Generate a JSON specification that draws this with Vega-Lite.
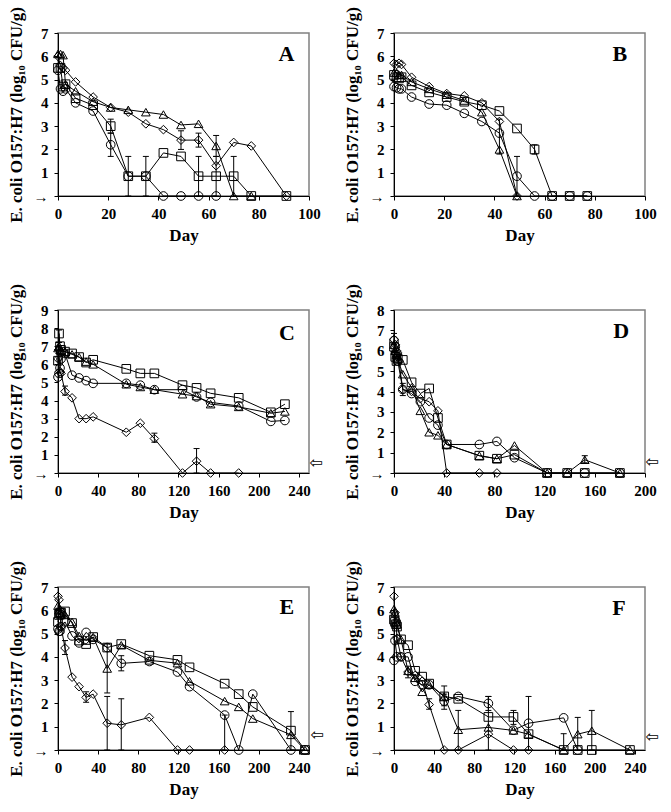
{
"$schema": "https://vega.github.io/schema/vega-lite/v6.json",
"background": "white",
"padding": {"left": 6, "top": 5, "right": 5, "bottom": 5},
"bounds": "flush",
"columns": 2,
"spacing": {"row": 114, "column": 85},
"datasets": {"m": [
{"p":"A","s":"c","d":0,"v":5.4},{"p":"A","s":"c","d":1,"v":4.6},{"p":"A","s":"c","d":2,"v":4.5},{"p":"A","s":"c","d":3,"v":4.6},{"p":"A","s":"c","d":7,"v":4.0},{"p":"A","s":"c","d":14,"v":3.65},{"p":"A","s":"c","d":21,"v":2.2,"lo":1.7,"hi":2.7},{"p":"A","s":"c","d":28,"v":0.85},{"p":"A","s":"c","d":35,"v":0.85},{"p":"A","s":"c","d":42,"v":0},{"p":"A","s":"c","d":49,"v":0},{"p":"A","s":"c","d":56,"v":0},{"p":"A","s":"c","d":63,"v":0},
{"p":"A","s":"s","d":0,"v":5.5},{"p":"A","s":"s","d":1,"v":5.5},{"p":"A","s":"s","d":2,"v":4.7},{"p":"A","s":"s","d":3,"v":4.8},{"p":"A","s":"s","d":7,"v":4.2},{"p":"A","s":"s","d":14,"v":3.9},{"p":"A","s":"s","d":21,"v":3.0,"lo":2.7,"hi":3.3},{"p":"A","s":"s","d":28,"v":0.85,"lo":0,"hi":1.7},{"p":"A","s":"s","d":35,"v":0.85,"lo":0,"hi":1.7},{"p":"A","s":"s","d":42,"v":1.85},{"p":"A","s":"s","d":49,"v":1.7},{"p":"A","s":"s","d":56,"v":0.85,"lo":0,"hi":1.7},{"p":"A","s":"s","d":63,"v":0.85,"lo":0,"hi":1.7},{"p":"A","s":"s","d":70,"v":0.85,"lo":0,"hi":1.7},{"p":"A","s":"s","d":77,"v":0},{"p":"A","s":"s","d":91,"v":0},
{"p":"A","s":"t","d":0,"v":6.1},{"p":"A","s":"t","d":1,"v":6.1},{"p":"A","s":"t","d":2,"v":6.05},{"p":"A","s":"t","d":3,"v":4.8},{"p":"A","s":"t","d":7,"v":4.5},{"p":"A","s":"t","d":14,"v":4.05},{"p":"A","s":"t","d":21,"v":3.8},{"p":"A","s":"t","d":28,"v":3.7},{"p":"A","s":"t","d":35,"v":3.6},{"p":"A","s":"t","d":42,"v":3.5},{"p":"A","s":"t","d":49,"v":3.05},{"p":"A","s":"t","d":56,"v":3.1},{"p":"A","s":"t","d":63,"v":2.15,"lo":1.7,"hi":2.6},{"p":"A","s":"t","d":70,"v":0},{"p":"A","s":"t","d":77,"v":0},
{"p":"A","s":"d","d":0,"v":6.0},{"p":"A","s":"d","d":1,"v":5.6},{"p":"A","s":"d","d":2,"v":5.5},{"p":"A","s":"d","d":3,"v":5.4},{"p":"A","s":"d","d":7,"v":4.9},{"p":"A","s":"d","d":14,"v":4.25},{"p":"A","s":"d","d":21,"v":3.8},{"p":"A","s":"d","d":28,"v":3.6},{"p":"A","s":"d","d":35,"v":3.1},{"p":"A","s":"d","d":42,"v":2.85},{"p":"A","s":"d","d":49,"v":2.4,"lo":2.0,"hi":2.8},{"p":"A","s":"d","d":56,"v":2.4,"lo":2.1,"hi":2.7},{"p":"A","s":"d","d":63,"v":1.3},{"p":"A","s":"d","d":70,"v":2.3},{"p":"A","s":"d","d":77,"v":2.15},{"p":"A","s":"d","d":91,"v":0},

{"p":"B","s":"c","d":0,"v":4.7},{"p":"B","s":"c","d":1,"v":4.65},{"p":"B","s":"c","d":2,"v":4.6},{"p":"B","s":"c","d":3,"v":4.6},{"p":"B","s":"c","d":7,"v":4.25},{"p":"B","s":"c","d":14,"v":3.95},{"p":"B","s":"c","d":21,"v":3.9},{"p":"B","s":"c","d":28,"v":3.55},{"p":"B","s":"c","d":35,"v":3.2},{"p":"B","s":"c","d":42,"v":2.7},{"p":"B","s":"c","d":49,"v":0.85,"lo":0,"hi":1.7},{"p":"B","s":"c","d":56,"v":0},{"p":"B","s":"c","d":63,"v":0},{"p":"B","s":"c","d":70,"v":0},{"p":"B","s":"c","d":77,"v":0},
{"p":"B","s":"s","d":0,"v":5.2},{"p":"B","s":"s","d":1,"v":5.1},{"p":"B","s":"s","d":2,"v":5.05},{"p":"B","s":"s","d":3,"v":5.1},{"p":"B","s":"s","d":7,"v":4.75},{"p":"B","s":"s","d":14,"v":4.45},{"p":"B","s":"s","d":21,"v":4.25},{"p":"B","s":"s","d":28,"v":4.05},{"p":"B","s":"s","d":35,"v":3.9},{"p":"B","s":"s","d":42,"v":3.65},{"p":"B","s":"s","d":49,"v":2.9},{"p":"B","s":"s","d":56,"v":2.0,"lo":1.8,"hi":2.2},{"p":"B","s":"s","d":63,"v":0},{"p":"B","s":"s","d":70,"v":0},{"p":"B","s":"s","d":77,"v":0},
{"p":"B","s":"t","d":0,"v":5.3},{"p":"B","s":"t","d":1,"v":5.3},{"p":"B","s":"t","d":2,"v":5.2},{"p":"B","s":"t","d":3,"v":5.2},{"p":"B","s":"t","d":7,"v":4.9},{"p":"B","s":"t","d":14,"v":4.6},{"p":"B","s":"t","d":21,"v":4.35},{"p":"B","s":"t","d":28,"v":4.1},{"p":"B","s":"t","d":35,"v":3.6},{"p":"B","s":"t","d":42,"v":2.0,"lo":1.8,"hi":3.3},{"p":"B","s":"t","d":49,"v":0},
{"p":"B","s":"d","d":0,"v":5.7},{"p":"B","s":"d","d":1,"v":5.65},{"p":"B","s":"d","d":2,"v":5.7},{"p":"B","s":"d","d":3,"v":5.65},{"p":"B","s":"d","d":7,"v":5.1},{"p":"B","s":"d","d":14,"v":4.7},{"p":"B","s":"d","d":21,"v":4.4},{"p":"B","s":"d","d":28,"v":4.3},{"p":"B","s":"d","d":35,"v":4.0},{"p":"B","s":"d","d":42,"v":3.2},{"p":"B","s":"d","d":49,"v":0},

{"p":"C","s":"c","d":0,"v":5.3},{"p":"C","s":"c","d":1,"v":5.5},{"p":"C","s":"c","d":2,"v":5.8},{"p":"C","s":"c","d":3,"v":6.3},{"p":"C","s":"c","d":7,"v":6.6},{"p":"C","s":"c","d":14,"v":5.4},{"p":"C","s":"c","d":21,"v":5.25},{"p":"C","s":"c","d":28,"v":5.1},{"p":"C","s":"c","d":35,"v":4.95},{"p":"C","s":"c","d":68,"v":4.95},{"p":"C","s":"c","d":82,"v":4.85},{"p":"C","s":"c","d":96,"v":4.6},{"p":"C","s":"c","d":124,"v":4.6},{"p":"C","s":"c","d":138,"v":4.2},{"p":"C","s":"c","d":152,"v":3.9},{"p":"C","s":"c","d":180,"v":3.7},{"p":"C","s":"c","d":212,"v":2.85},{"p":"C","s":"c","d":226,"v":2.9},
{"p":"C","s":"s","d":0,"v":6.2},{"p":"C","s":"s","d":1,"v":7.7,"lo":7.2,"hi":7.9},{"p":"C","s":"s","d":2,"v":7.0},{"p":"C","s":"s","d":3,"v":6.8},{"p":"C","s":"s","d":7,"v":6.7},{"p":"C","s":"s","d":14,"v":6.6},{"p":"C","s":"s","d":21,"v":6.4},{"p":"C","s":"s","d":28,"v":6.1},{"p":"C","s":"s","d":35,"v":6.25},{"p":"C","s":"s","d":68,"v":5.75},{"p":"C","s":"s","d":82,"v":5.5},{"p":"C","s":"s","d":96,"v":5.5},{"p":"C","s":"s","d":124,"v":4.85},{"p":"C","s":"s","d":138,"v":4.7},{"p":"C","s":"s","d":152,"v":4.4},{"p":"C","s":"s","d":180,"v":4.15},{"p":"C","s":"s","d":212,"v":3.35},{"p":"C","s":"s","d":226,"v":3.8},
{"p":"C","s":"t","d":0,"v":6.9},{"p":"C","s":"t","d":1,"v":7.0},{"p":"C","s":"t","d":2,"v":6.8},{"p":"C","s":"t","d":3,"v":6.75},{"p":"C","s":"t","d":7,"v":6.7},{"p":"C","s":"t","d":14,"v":6.55},{"p":"C","s":"t","d":21,"v":6.4},{"p":"C","s":"t","d":28,"v":6.15},{"p":"C","s":"t","d":35,"v":6.0},{"p":"C","s":"t","d":68,"v":4.9},{"p":"C","s":"t","d":82,"v":4.75},{"p":"C","s":"t","d":96,"v":4.6},{"p":"C","s":"t","d":124,"v":4.35},{"p":"C","s":"t","d":138,"v":4.25},{"p":"C","s":"t","d":152,"v":3.8},{"p":"C","s":"t","d":180,"v":3.65},{"p":"C","s":"t","d":212,"v":3.3},{"p":"C","s":"t","d":226,"v":3.4},
{"p":"C","s":"d","d":0,"v":6.3},{"p":"C","s":"d","d":1,"v":6.8},{"p":"C","s":"d","d":2,"v":5.6},{"p":"C","s":"d","d":3,"v":5.5},{"p":"C","s":"d","d":7,"v":4.5,"lo":4.3,"hi":4.8},{"p":"C","s":"d","d":14,"v":4.15},{"p":"C","s":"d","d":21,"v":3.0},{"p":"C","s":"d","d":28,"v":3.0},{"p":"C","s":"d","d":35,"v":3.1},{"p":"C","s":"d","d":68,"v":2.25},{"p":"C","s":"d","d":82,"v":2.75},{"p":"C","s":"d","d":96,"v":1.9,"lo":1.7,"hi":2.2},{"p":"C","s":"d","d":124,"v":0},{"p":"C","s":"d","d":138,"v":0.65,"lo":0,"hi":1.35},{"p":"C","s":"d","d":152,"v":0},{"p":"C","s":"d","d":180,"v":0},

{"p":"D","s":"c","d":0,"v":6.5},{"p":"D","s":"c","d":1,"v":6.2},{"p":"D","s":"c","d":2,"v":5.8},{"p":"D","s":"c","d":3,"v":5.5},{"p":"D","s":"c","d":7,"v":4.1},{"p":"D","s":"c","d":14,"v":3.9},{"p":"D","s":"c","d":21,"v":3.5},{"p":"D","s":"c","d":28,"v":2.7},{"p":"D","s":"c","d":35,"v":2.35},{"p":"D","s":"c","d":42,"v":1.4},{"p":"D","s":"c","d":68,"v":1.4},{"p":"D","s":"c","d":82,"v":1.55},{"p":"D","s":"c","d":96,"v":0.75},{"p":"D","s":"c","d":122,"v":0},{"p":"D","s":"c","d":138,"v":0},{"p":"D","s":"c","d":152,"v":0},{"p":"D","s":"c","d":180,"v":0},
{"p":"D","s":"s","d":0,"v":6.2},{"p":"D","s":"s","d":1,"v":5.7},{"p":"D","s":"s","d":2,"v":5.5},{"p":"D","s":"s","d":3,"v":5.6},{"p":"D","s":"s","d":7,"v":5.55},{"p":"D","s":"s","d":14,"v":4.45},{"p":"D","s":"s","d":21,"v":3.9},{"p":"D","s":"s","d":28,"v":4.15},{"p":"D","s":"s","d":35,"v":2.7},{"p":"D","s":"s","d":42,"v":1.4},{"p":"D","s":"s","d":68,"v":0.85},{"p":"D","s":"s","d":82,"v":0.7},{"p":"D","s":"s","d":96,"v":0.9},{"p":"D","s":"s","d":122,"v":0},{"p":"D","s":"s","d":138,"v":0},{"p":"D","s":"s","d":152,"v":0},{"p":"D","s":"s","d":180,"v":0},
{"p":"D","s":"t","d":0,"v":6.3},{"p":"D","s":"t","d":1,"v":6.0},{"p":"D","s":"t","d":2,"v":5.8},{"p":"D","s":"t","d":3,"v":5.6},{"p":"D","s":"t","d":7,"v":4.85},{"p":"D","s":"t","d":14,"v":4.2},{"p":"D","s":"t","d":21,"v":3.05},{"p":"D","s":"t","d":28,"v":2.0},{"p":"D","s":"t","d":35,"v":1.85},{"p":"D","s":"t","d":42,"v":1.4},{"p":"D","s":"t","d":68,"v":0.85},{"p":"D","s":"t","d":82,"v":0.7},{"p":"D","s":"t","d":96,"v":1.35},{"p":"D","s":"t","d":122,"v":0},{"p":"D","s":"t","d":138,"v":0},{"p":"D","s":"t","d":152,"v":0.65,"lo":0.5,"hi":0.85},{"p":"D","s":"t","d":180,"v":0},
{"p":"D","s":"d","d":0,"v":6.55,"lo":6.3,"hi":6.85},{"p":"D","s":"d","d":1,"v":6.3},{"p":"D","s":"d","d":2,"v":6.0},{"p":"D","s":"d","d":3,"v":5.9},{"p":"D","s":"d","d":7,"v":4.1,"lo":3.8,"hi":4.4},{"p":"D","s":"d","d":14,"v":4.0},{"p":"D","s":"d","d":21,"v":3.65},{"p":"D","s":"d","d":28,"v":3.5},{"p":"D","s":"d","d":35,"v":3.05},{"p":"D","s":"d","d":42,"v":0},{"p":"D","s":"d","d":68,"v":0},{"p":"D","s":"d","d":82,"v":0},

{"p":"E","s":"c","d":0,"v":5.2},{"p":"E","s":"c","d":1,"v":5.1},{"p":"E","s":"c","d":2,"v":5.1},{"p":"E","s":"c","d":3,"v":5.3},{"p":"E","s":"c","d":7,"v":5.5},{"p":"E","s":"c","d":14,"v":4.9},{"p":"E","s":"c","d":21,"v":4.6},{"p":"E","s":"c","d":28,"v":5.05},{"p":"E","s":"c","d":35,"v":4.75},{"p":"E","s":"c","d":49,"v":4.4},{"p":"E","s":"c","d":63,"v":3.72,"lo":3.4,"hi":4.05},{"p":"E","s":"c","d":91,"v":3.8},{"p":"E","s":"c","d":119,"v":3.35},{"p":"E","s":"c","d":131,"v":2.72},{"p":"E","s":"c","d":166,"v":1.5,"lo":0,"hi":1.5},{"p":"E","s":"c","d":180,"v":0},{"p":"E","s":"c","d":194,"v":2.4},{"p":"E","s":"c","d":232,"v":0},{"p":"E","s":"c","d":246,"v":0},
{"p":"E","s":"s","d":0,"v":5.5},{"p":"E","s":"s","d":1,"v":5.8},{"p":"E","s":"s","d":2,"v":5.9},{"p":"E","s":"s","d":3,"v":5.9},{"p":"E","s":"s","d":7,"v":5.95},{"p":"E","s":"s","d":14,"v":5.45},{"p":"E","s":"s","d":21,"v":4.7},{"p":"E","s":"s","d":28,"v":4.55},{"p":"E","s":"s","d":35,"v":4.85},{"p":"E","s":"s","d":49,"v":4.4},{"p":"E","s":"s","d":63,"v":4.55},{"p":"E","s":"s","d":91,"v":4.05},{"p":"E","s":"s","d":119,"v":3.87},{"p":"E","s":"s","d":131,"v":3.55},{"p":"E","s":"s","d":166,"v":2.85},{"p":"E","s":"s","d":180,"v":2.4},{"p":"E","s":"s","d":194,"v":1.85},{"p":"E","s":"s","d":232,"v":0.83,"lo":0,"hi":1.65},{"p":"E","s":"s","d":246,"v":0},
{"p":"E","s":"t","d":0,"v":6.2},{"p":"E","s":"t","d":1,"v":6.0},{"p":"E","s":"t","d":2,"v":5.9},{"p":"E","s":"t","d":3,"v":5.8},{"p":"E","s":"t","d":7,"v":5.8},{"p":"E","s":"t","d":14,"v":5.5},{"p":"E","s":"t","d":21,"v":4.9},{"p":"E","s":"t","d":28,"v":4.7},{"p":"E","s":"t","d":35,"v":4.85},{"p":"E","s":"t","d":49,"v":3.5,"lo":2.45,"hi":4.55},{"p":"E","s":"t","d":63,"v":4.5},{"p":"E","s":"t","d":91,"v":3.85},{"p":"E","s":"t","d":119,"v":3.73},{"p":"E","s":"t","d":131,"v":2.95},{"p":"E","s":"t","d":166,"v":2.1},{"p":"E","s":"t","d":180,"v":1.85},{"p":"E","s":"t","d":194,"v":1.35},{"p":"E","s":"t","d":232,"v":0.65},{"p":"E","s":"t","d":246,"v":0},
{"p":"E","s":"d","d":0,"v":6.6},{"p":"E","s":"d","d":1,"v":6.45},{"p":"E","s":"d","d":2,"v":6.0},{"p":"E","s":"d","d":3,"v":5.3},{"p":"E","s":"d","d":7,"v":4.38,"lo":4.1,"hi":4.7},{"p":"E","s":"d","d":14,"v":3.13},{"p":"E","s":"d","d":21,"v":2.72},{"p":"E","s":"d","d":28,"v":2.26,"lo":2.05,"hi":2.5},{"p":"E","s":"d","d":35,"v":2.4},{"p":"E","s":"d","d":49,"v":1.15,"lo":0,"hi":2.3},{"p":"E","s":"d","d":63,"v":1.08,"lo":0,"hi":2.2},{"p":"E","s":"d","d":91,"v":1.4},{"p":"E","s":"d","d":119,"v":0},{"p":"E","s":"d","d":131,"v":0},{"p":"E","s":"d","d":166,"v":0},

{"p":"F","s":"c","d":0,"v":3.85},{"p":"F","s":"c","d":1,"v":4.7},{"p":"F","s":"c","d":3,"v":4.0},{"p":"F","s":"c","d":7,"v":4.0},{"p":"F","s":"c","d":14,"v":4.0},{"p":"F","s":"c","d":21,"v":2.95},{"p":"F","s":"c","d":28,"v":2.8},{"p":"F","s":"c","d":35,"v":2.8},{"p":"F","s":"c","d":50,"v":2.1,"lo":1.75,"hi":2.4},{"p":"F","s":"c","d":64,"v":2.3},{"p":"F","s":"c","d":94,"v":2.0,"lo":1.7,"hi":2.3},{"p":"F","s":"c","d":119,"v":0.85},{"p":"F","s":"c","d":134,"v":1.15},{"p":"F","s":"c","d":169,"v":1.38},{"p":"F","s":"c","d":183,"v":0},
{"p":"F","s":"s","d":0,"v":5.6},{"p":"F","s":"s","d":1,"v":5.5},{"p":"F","s":"s","d":2,"v":5.4},{"p":"F","s":"s","d":3,"v":5.3},{"p":"F","s":"s","d":7,"v":4.75},{"p":"F","s":"s","d":14,"v":4.5},{"p":"F","s":"s","d":21,"v":3.4},{"p":"F","s":"s","d":28,"v":3.15},{"p":"F","s":"s","d":35,"v":2.85},{"p":"F","s":"s","d":50,"v":2.3},{"p":"F","s":"s","d":64,"v":2.2},{"p":"F","s":"s","d":94,"v":1.42},{"p":"F","s":"s","d":119,"v":1.42,"lo":1.1,"hi":1.7},{"p":"F","s":"s","d":134,"v":0.68},{"p":"F","s":"s","d":169,"v":0},{"p":"F","s":"s","d":183,"v":0},{"p":"F","s":"s","d":197,"v":0},{"p":"F","s":"s","d":235,"v":0},
{"p":"F","s":"t","d":0,"v":6.05},{"p":"F","s":"t","d":1,"v":5.9},{"p":"F","s":"t","d":2,"v":5.5},{"p":"F","s":"t","d":3,"v":5.4},{"p":"F","s":"t","d":7,"v":4.75},{"p":"F","s":"t","d":14,"v":3.4},{"p":"F","s":"t","d":21,"v":3.1},{"p":"F","s":"t","d":28,"v":2.5},{"p":"F","s":"t","d":35,"v":2.8},{"p":"F","s":"t","d":50,"v":2.3,"lo":1.9,"hi":2.75},{"p":"F","s":"t","d":64,"v":0.87,"lo":0,"hi":1.7},{"p":"F","s":"t","d":94,"v":0.97,"lo":0,"hi":2.3},{"p":"F","s":"t","d":119,"v":0.84},{"p":"F","s":"t","d":134,"v":0.68,"lo":0,"hi":2.3},{"p":"F","s":"t","d":169,"v":0,"lo":0,"hi":0.7},{"p":"F","s":"t","d":183,"v":0.68,"lo":0,"hi":1.4},{"p":"F","s":"t","d":197,"v":0.83,"lo":0,"hi":1.7},{"p":"F","s":"t","d":235,"v":0},
{"p":"F","s":"d","d":0,"v":6.6},{"p":"F","s":"d","d":1,"v":5.9},{"p":"F","s":"d","d":2,"v":5.5},{"p":"F","s":"d","d":3,"v":4.8},{"p":"F","s":"d","d":7,"v":4.0},{"p":"F","s":"d","d":14,"v":3.35,"lo":3.1,"hi":3.6},{"p":"F","s":"d","d":21,"v":3.2},{"p":"F","s":"d","d":28,"v":2.95},{"p":"F","s":"d","d":35,"v":1.95,"lo":1.75,"hi":2.2},{"p":"F","s":"d","d":50,"v":0},{"p":"F","s":"d","d":64,"v":0},{"p":"F","s":"d","d":94,"v":0.68},{"p":"F","s":"d","d":119,"v":0},{"p":"F","s":"d","d":134,"v":0}
]},
"data": {"name": "m"},
"concat": [
{"width": 251, "height": 163, "transform": [{"filter": "datum.p == 'A'"}], "layer": [
 {"mark": {"type": "line", "color": "black", "strokeWidth": 1}, "encoding": {"x": {"field": "d", "type": "quantitative", "scale": {"domain": [0, 100], "nice": false}, "axis": {"values": [0,20,40,60,80,100], "tickCount": 12, "format": "d", "title": "Day"}}, "y": {"field": "v", "type": "quantitative", "scale": {"domain": [0, 7], "nice": false}, "axis": {"values": [0,1,2,3,4,5,6,7], "tickCount": 12, "format": "d", "labelExpr": "datum.value == 0 ? '→\u00a0\u00a0\u00a0' : datum.label", "title": "E. coli O157:H7 (log₁₀ CFU/g)"}}, "detail": {"field": "s"}}},
 {"transform": [{"filter": "isValid(datum.hi)"}], "mark": {"type": "rule", "color": "black", "strokeWidth": 1}, "encoding": {"x": {"field": "d", "type": "quantitative"}, "y": {"field": "lo", "type": "quantitative"}, "y2": {"field": "hi"}}},
 {"transform": [{"filter": "isValid(datum.hi)"}], "mark": {"type": "tick", "orient": "horizontal", "color": "black", "size": 6, "thickness": 1, "opacity": 1}, "encoding": {"x": {"field": "d", "type": "quantitative"}, "y": {"field": "hi", "type": "quantitative"}}},
 {"transform": [{"filter": "isValid(datum.hi)"}], "mark": {"type": "tick", "orient": "horizontal", "color": "black", "size": 6, "thickness": 1, "opacity": 1}, "encoding": {"x": {"field": "d", "type": "quantitative"}, "y": {"field": "lo", "type": "quantitative"}}},
 {"mark": {"type": "point", "filled": false, "color": "black", "opacity": 1, "size": 75, "strokeWidth": 1}, "encoding": {"x": {"field": "d", "type": "quantitative"}, "y": {"field": "v", "type": "quantitative"}, "shape": {"field": "s", "type": "nominal", "scale": {"domain": ["c","s","t","d"], "range": ["circle","square","triangle-up","diamond"]}, "legend": null}}},
 {"data": {"values": [{"t": "A"}]}, "mark": {"type": "text", "font": "Liberation Serif", "fontWeight": "bold", "fontSize": 22, "color": "black"}, "encoding": {"text": {"field": "t"}, "x": {"datum": 91}, "y": {"datum": 6.1}}}
]},
{"width": 251, "height": 163, "transform": [{"filter": "datum.p == 'B'"}], "layer": [
 {"mark": {"type": "line", "color": "black", "strokeWidth": 1}, "encoding": {"x": {"field": "d", "type": "quantitative", "scale": {"domain": [0, 100], "nice": false}, "axis": {"values": [0,20,40,60,80,100], "tickCount": 12, "format": "d", "title": "Day"}}, "y": {"field": "v", "type": "quantitative", "scale": {"domain": [0, 7], "nice": false}, "axis": {"values": [0,1,2,3,4,5,6,7], "tickCount": 12, "format": "d", "labelExpr": "datum.value == 0 ? '→\u00a0\u00a0\u00a0' : datum.label", "title": "E. coli O157:H7 (log₁₀ CFU/g)"}}, "detail": {"field": "s"}}},
 {"transform": [{"filter": "isValid(datum.hi)"}], "mark": {"type": "rule", "color": "black", "strokeWidth": 1}, "encoding": {"x": {"field": "d", "type": "quantitative"}, "y": {"field": "lo", "type": "quantitative"}, "y2": {"field": "hi"}}},
 {"transform": [{"filter": "isValid(datum.hi)"}], "mark": {"type": "tick", "orient": "horizontal", "color": "black", "size": 6, "thickness": 1, "opacity": 1}, "encoding": {"x": {"field": "d", "type": "quantitative"}, "y": {"field": "hi", "type": "quantitative"}}},
 {"transform": [{"filter": "isValid(datum.hi)"}], "mark": {"type": "tick", "orient": "horizontal", "color": "black", "size": 6, "thickness": 1, "opacity": 1}, "encoding": {"x": {"field": "d", "type": "quantitative"}, "y": {"field": "lo", "type": "quantitative"}}},
 {"mark": {"type": "point", "filled": false, "color": "black", "opacity": 1, "size": 75, "strokeWidth": 1}, "encoding": {"x": {"field": "d", "type": "quantitative"}, "y": {"field": "v", "type": "quantitative"}, "shape": {"field": "s", "type": "nominal", "scale": {"domain": ["c","s","t","d"], "range": ["circle","square","triangle-up","diamond"]}, "legend": null}}},
 {"data": {"values": [{"t": "B"}]}, "mark": {"type": "text", "font": "Liberation Serif", "fontWeight": "bold", "fontSize": 22, "color": "black"}, "encoding": {"text": {"field": "t"}, "x": {"datum": 90}, "y": {"datum": 6.1}}}
]},
{"width": 251, "height": 163, "transform": [{"filter": "datum.p == 'C'"}], "layer": [
 {"mark": {"type": "line", "color": "black", "strokeWidth": 1}, "encoding": {"x": {"field": "d", "type": "quantitative", "scale": {"domain": [0, 250], "nice": false}, "axis": {"values": [0,40,80,120,160,200,240], "tickCount": 12, "format": "d", "title": "Day"}}, "y": {"field": "v", "type": "quantitative", "scale": {"domain": [0, 9], "nice": false}, "axis": {"values": [0,1,2,3,4,5,6,7,8,9], "tickCount": 12, "format": "d", "labelExpr": "datum.value == 0 ? '→\u00a0\u00a0\u00a0' : datum.label", "title": "E. coli O157:H7 (log₁₀ CFU/g)"}}, "detail": {"field": "s"}}},
 {"transform": [{"filter": "isValid(datum.hi)"}], "mark": {"type": "rule", "color": "black", "strokeWidth": 1}, "encoding": {"x": {"field": "d", "type": "quantitative"}, "y": {"field": "lo", "type": "quantitative"}, "y2": {"field": "hi"}}},
 {"transform": [{"filter": "isValid(datum.hi)"}], "mark": {"type": "tick", "orient": "horizontal", "color": "black", "size": 6, "thickness": 1, "opacity": 1}, "encoding": {"x": {"field": "d", "type": "quantitative"}, "y": {"field": "hi", "type": "quantitative"}}},
 {"transform": [{"filter": "isValid(datum.hi)"}], "mark": {"type": "tick", "orient": "horizontal", "color": "black", "size": 6, "thickness": 1, "opacity": 1}, "encoding": {"x": {"field": "d", "type": "quantitative"}, "y": {"field": "lo", "type": "quantitative"}}},
 {"mark": {"type": "point", "filled": false, "color": "black", "opacity": 1, "size": 75, "strokeWidth": 1}, "encoding": {"x": {"field": "d", "type": "quantitative"}, "y": {"field": "v", "type": "quantitative"}, "shape": {"field": "s", "type": "nominal", "scale": {"domain": ["c","s","t","d"], "range": ["circle","square","triangle-up","diamond"]}, "legend": null}}},
 {"data": {"values": [{"t": "C"}]}, "mark": {"type": "text", "font": "Liberation Serif", "fontWeight": "bold", "fontSize": 22, "color": "black"}, "encoding": {"text": {"field": "t"}, "x": {"datum": 228}, "y": {"datum": 7.75}}},
 {"data": {"values": [{"t": "⇦"}]}, "mark": {"type": "text", "font": "DejaVu Sans", "fontSize": 16, "color": "black"}, "encoding": {"text": {"field": "t"}, "x": {"datum": 257}, "y": {"datum": 0.55}}}
]},
{"width": 251, "height": 163, "transform": [{"filter": "datum.p == 'D'"}], "layer": [
 {"mark": {"type": "line", "color": "black", "strokeWidth": 1}, "encoding": {"x": {"field": "d", "type": "quantitative", "scale": {"domain": [0, 200], "nice": false}, "axis": {"values": [0,40,80,120,160,200], "tickCount": 12, "format": "d", "title": "Day"}}, "y": {"field": "v", "type": "quantitative", "scale": {"domain": [0, 8], "nice": false}, "axis": {"values": [0,1,2,3,4,5,6,7,8], "tickCount": 12, "format": "d", "labelExpr": "datum.value == 0 ? '→\u00a0\u00a0\u00a0' : datum.label", "title": "E. coli O157:H7 (log₁₀ CFU/g)"}}, "detail": {"field": "s"}}},
 {"transform": [{"filter": "isValid(datum.hi)"}], "mark": {"type": "rule", "color": "black", "strokeWidth": 1}, "encoding": {"x": {"field": "d", "type": "quantitative"}, "y": {"field": "lo", "type": "quantitative"}, "y2": {"field": "hi"}}},
 {"transform": [{"filter": "isValid(datum.hi)"}], "mark": {"type": "tick", "orient": "horizontal", "color": "black", "size": 6, "thickness": 1, "opacity": 1}, "encoding": {"x": {"field": "d", "type": "quantitative"}, "y": {"field": "hi", "type": "quantitative"}}},
 {"transform": [{"filter": "isValid(datum.hi)"}], "mark": {"type": "tick", "orient": "horizontal", "color": "black", "size": 6, "thickness": 1, "opacity": 1}, "encoding": {"x": {"field": "d", "type": "quantitative"}, "y": {"field": "lo", "type": "quantitative"}}},
 {"mark": {"type": "point", "filled": false, "color": "black", "opacity": 1, "size": 75, "strokeWidth": 1}, "encoding": {"x": {"field": "d", "type": "quantitative"}, "y": {"field": "v", "type": "quantitative"}, "shape": {"field": "s", "type": "nominal", "scale": {"domain": ["c","s","t","d"], "range": ["circle","square","triangle-up","diamond"]}, "legend": null}}},
 {"data": {"values": [{"t": "D"}]}, "mark": {"type": "text", "font": "Liberation Serif", "fontWeight": "bold", "fontSize": 22, "color": "black"}, "encoding": {"text": {"field": "t"}, "x": {"datum": 181}, "y": {"datum": 6.95}}},
 {"data": {"values": [{"t": "⇦"}]}, "mark": {"type": "text", "font": "DejaVu Sans", "fontSize": 16, "color": "black"}, "encoding": {"text": {"field": "t"}, "x": {"datum": 205.5}, "y": {"datum": 0.54}}}
]},
{"width": 251, "height": 163, "transform": [{"filter": "datum.p == 'E'"}], "layer": [
 {"mark": {"type": "line", "color": "black", "strokeWidth": 1}, "encoding": {"x": {"field": "d", "type": "quantitative", "scale": {"domain": [0, 250], "nice": false}, "axis": {"values": [0,40,80,120,160,200,240], "tickCount": 12, "format": "d", "title": "Day"}}, "y": {"field": "v", "type": "quantitative", "scale": {"domain": [0, 7], "nice": false}, "axis": {"values": [0,1,2,3,4,5,6,7], "tickCount": 12, "format": "d", "labelExpr": "datum.value == 0 ? '→\u00a0\u00a0\u00a0' : datum.label", "title": "E. coli O157:H7 (log₁₀ CFU/g)"}}, "detail": {"field": "s"}}},
 {"transform": [{"filter": "isValid(datum.hi)"}], "mark": {"type": "rule", "color": "black", "strokeWidth": 1}, "encoding": {"x": {"field": "d", "type": "quantitative"}, "y": {"field": "lo", "type": "quantitative"}, "y2": {"field": "hi"}}},
 {"transform": [{"filter": "isValid(datum.hi)"}], "mark": {"type": "tick", "orient": "horizontal", "color": "black", "size": 6, "thickness": 1, "opacity": 1}, "encoding": {"x": {"field": "d", "type": "quantitative"}, "y": {"field": "hi", "type": "quantitative"}}},
 {"transform": [{"filter": "isValid(datum.hi)"}], "mark": {"type": "tick", "orient": "horizontal", "color": "black", "size": 6, "thickness": 1, "opacity": 1}, "encoding": {"x": {"field": "d", "type": "quantitative"}, "y": {"field": "lo", "type": "quantitative"}}},
 {"mark": {"type": "point", "filled": false, "color": "black", "opacity": 1, "size": 75, "strokeWidth": 1}, "encoding": {"x": {"field": "d", "type": "quantitative"}, "y": {"field": "v", "type": "quantitative"}, "shape": {"field": "s", "type": "nominal", "scale": {"domain": ["c","s","t","d"], "range": ["circle","square","triangle-up","diamond"]}, "legend": null}}},
 {"data": {"values": [{"t": "E"}]}, "mark": {"type": "text", "font": "Liberation Serif", "fontWeight": "bold", "fontSize": 22, "color": "black"}, "encoding": {"text": {"field": "t"}, "x": {"datum": 228}, "y": {"datum": 6.15}}},
 {"data": {"values": [{"t": "⇦"}]}, "mark": {"type": "text", "font": "DejaVu Sans", "fontSize": 16, "color": "black"}, "encoding": {"text": {"field": "t"}, "x": {"datum": 258}, "y": {"datum": 0.65}}}
]},
{"width": 251, "height": 163, "transform": [{"filter": "datum.p == 'F'"}], "layer": [
 {"mark": {"type": "line", "color": "black", "strokeWidth": 1}, "encoding": {"x": {"field": "d", "type": "quantitative", "scale": {"domain": [0, 250], "nice": false}, "axis": {"values": [0,40,80,120,160,200,240], "tickCount": 12, "format": "d", "title": "Day"}}, "y": {"field": "v", "type": "quantitative", "scale": {"domain": [0, 7], "nice": false}, "axis": {"values": [0,1,2,3,4,5,6,7], "tickCount": 12, "format": "d", "labelExpr": "datum.value == 0 ? '→\u00a0\u00a0\u00a0' : datum.label", "title": "E. coli O157:H7 (log₁₀ CFU/g)"}}, "detail": {"field": "s"}}},
 {"transform": [{"filter": "isValid(datum.hi)"}], "mark": {"type": "rule", "color": "black", "strokeWidth": 1}, "encoding": {"x": {"field": "d", "type": "quantitative"}, "y": {"field": "lo", "type": "quantitative"}, "y2": {"field": "hi"}}},
 {"transform": [{"filter": "isValid(datum.hi)"}], "mark": {"type": "tick", "orient": "horizontal", "color": "black", "size": 6, "thickness": 1, "opacity": 1}, "encoding": {"x": {"field": "d", "type": "quantitative"}, "y": {"field": "hi", "type": "quantitative"}}},
 {"transform": [{"filter": "isValid(datum.hi)"}], "mark": {"type": "tick", "orient": "horizontal", "color": "black", "size": 6, "thickness": 1, "opacity": 1}, "encoding": {"x": {"field": "d", "type": "quantitative"}, "y": {"field": "lo", "type": "quantitative"}}},
 {"mark": {"type": "point", "filled": false, "color": "black", "opacity": 1, "size": 75, "strokeWidth": 1}, "encoding": {"x": {"field": "d", "type": "quantitative"}, "y": {"field": "v", "type": "quantitative"}, "shape": {"field": "s", "type": "nominal", "scale": {"domain": ["c","s","t","d"], "range": ["circle","square","triangle-up","diamond"]}, "legend": null}}},
 {"data": {"values": [{"t": "F"}]}, "mark": {"type": "text", "font": "Liberation Serif", "fontWeight": "bold", "fontSize": 22, "color": "black"}, "encoding": {"text": {"field": "t"}, "x": {"datum": 224}, "y": {"datum": 6.1}}},
 {"data": {"values": [{"t": "⇦"}]}, "mark": {"type": "text", "font": "DejaVu Sans", "fontSize": 16, "color": "black"}, "encoding": {"text": {"field": "t"}, "x": {"datum": 257}, "y": {"datum": 0.56}}}
]}
],
"config": {
 "view": {"stroke": "#808080", "strokeWidth": 1.5},
 "axis": {"grid": false, "labelFont": "Liberation Serif", "labelFontWeight": "bold", "labelFontSize": 15, "labelColor": "black", "labelOverlap": false, "titleFont": "Liberation Serif", "titleFontWeight": "bold", "titleFontSize": 17, "titleColor": "black", "domainColor": "black", "domainWidth": 1, "tickColor": "black", "tickSize": 4},
 "axisX": {"labelPadding": 6, "titlePadding": 6, "labelFlush": false},
 "axisY": {"labelPadding": 6, "titlePadding": 8, "labelFlush": false}
}
}
